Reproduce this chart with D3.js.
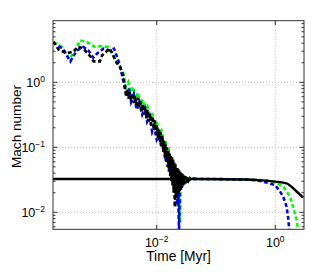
<!DOCTYPE html>
<html>
<head>
<meta charset="utf-8">
<script src="https://cdn.jsdelivr.net/npm/d3@7"></script>
<style>
  body { margin: 0; background: #fff; }
  text { font-family: "Liberation Sans", Arial, sans-serif; fill: #000; }
</style>
</head>
<body>
<svg class="chart" width="336" height="273"></svg>
<script>
// time [Myr] and Mach number
let greenT = [1.81e-4, 2.5e-4, 3.1e-4, 3.25e-4, 3.7e-4, 4.2e-4, 5.1e-4, 6.6e-4, 9.1e-4, 1.18e-3, 1.53e-3, 1.75e-3, 2.0e-3, 2.26e-3, 2.75e-3,
  3.0e-3, 3.3e-3, 3.6e-3, 4.0e-3, 4.4e-3, 4.8e-3, 5.3e-3, 5.8e-3, 6.4e-3, 7.0e-3, 7.7e-3, 8.4e-3, 9.2e-3, 1.0e-2, 1.1e-2, 1.2e-2,
  1.3e-2, 1.4e-2, 1.5e-2, 1.6e-2, 1.7e-2, 1.8e-2, 1.9e-2, 2.0e-2, 2.1e-2, 2.2e-2, 2.3e-2, 2.38e-2, 2.47e-2, 2.55e-2, 2.65e-2,
  2.8e-2, 2.95e-2, 3.15e-2, 3.45e-2, 3.9e-2, 5e-2, 0.1, 0.3, 0.7, 1.0, 1.36, 1.77, 2.0, 2.29, 2.45];
let greenM = [4.2, 3.5, 2.6, 2.3, 2.6, 3.1, 4.4, 4.2, 3.5, 3.6, 3.5, 2.8, 2.2, 1.85, 1.37,
  0.85, 1.0, 0.7, 0.85, 0.55, 0.7, 0.45, 0.55, 0.36, 0.42, 0.28, 0.34, 0.21, 0.25, 0.16, 0.18,
  0.12, 0.13, 0.08, 0.09, 0.055, 0.06, 0.035, 0.04, 0.02, 0.028, 0.012, 0.02, 0.007, 0.03, 0.024,
  0.034, 0.028, 0.034, 0.031, 0.033, 0.0325, 0.0325, 0.0322, 0.031, 0.029, 0.025, 0.0175, 0.012, 0.0076, 0.005];

let blueT = [2.2e-4, 2.6e-4, 3.1e-4, 3.5e-4, 4.0e-4, 4.5e-4, 5.8e-4, 7.0e-4, 8.5e-4, 1.0e-3, 1.26e-3, 1.6e-3, 1.9e-3, 2.1e-3, 2.4e-3, 2.7e-3,
  2.9e-3, 3.1e-3, 3.4e-3, 3.7e-3, 4.1e-3, 4.6e-3, 5.1e-3, 5.7e-3, 6.3e-3, 6.9e-3, 7.6e-3, 8.4e-3, 9.2e-3, 1.0e-2, 1.1e-2, 1.2e-2,
  1.3e-2, 1.4e-2, 1.5e-2, 1.6e-2, 1.7e-2, 1.8e-2, 1.9e-2, 2.0e-2, 2.1e-2, 2.2e-2, 2.3e-2, 2.38e-2, 2.45e-2, 2.55e-2, 2.7e-2,
  2.85e-2, 3.0e-2, 3.3e-2, 3.7e-2, 5e-2, 0.1, 0.3, 0.5, 0.8, 1.0, 1.2, 1.36, 1.55, 1.67, 1.72];
let blueM = [3.6, 3.3, 2.5, 2.1, 2.6, 3.1, 3.5, 3.1, 2.4, 2.8, 3.3, 3.1, 3.3, 2.6, 1.8, 1.1,
  0.9, 0.6, 0.8, 0.5, 0.65, 0.38, 0.5, 0.32, 0.4, 0.25, 0.3, 0.17, 0.2, 0.13, 0.15, 0.1,
  0.11, 0.07, 0.08, 0.05, 0.055, 0.035, 0.04, 0.022, 0.03, 0.013, 0.02, 0.005, 0.03, 0.022, 0.034,
  0.028, 0.034, 0.03, 0.033, 0.0325, 0.0325, 0.032, 0.031, 0.028, 0.026, 0.021, 0.0174, 0.0122, 0.0076, 0.005];

let blackT = [1.81e-4, 2.2e-4, 3.04e-4, 3.9e-4, 4.79e-4, 5.8e-4, 7.6e-4, 8.6e-4, 1.1e-3, 1.2e-3, 1.6e-3, 1.75e-3, 2.1e-3, 2.4e-3, 2.7e-3,
  2.9e-3, 3.05e-3, 3.2e-3, 3.35e-3, 3.5e-3, 3.7e-3, 3.9e-3, 4.1e-3, 4.3e-3, 4.5e-3, 4.75e-3, 5.0e-3, 5.25e-3, 5.5e-3, 5.8e-3,
  6.1e-3, 6.4e-3, 6.7e-3, 7.0e-3, 7.35e-3, 7.7e-3, 8.1e-3, 8.5e-3, 8.9e-3, 9.3e-3, 9.7e-3, 1.01e-2, 1.05e-2, 1.09e-2, 1.13e-2,
  1.17e-2, 1.21e-2, 1.25e-2, 1.29e-2, 1.33e-2, 1.37e-2, 1.41e-2, 1.45e-2, 1.49e-2, 1.53e-2, 1.57e-2, 1.61e-2, 1.65e-2, 1.69e-2,
  1.73e-2, 1.77e-2, 1.81e-2, 1.85e-2, 1.89e-2, 1.93e-2, 1.97e-2, 2.01e-2, 2.04e-2, 2.07e-2, 2.11e-2, 2.15e-2, 2.19e-2, 2.23e-2,
  2.27e-2, 2.31e-2, 2.35e-2, 2.4e-2, 2.45e-2, 2.5e-2, 2.55e-2, 2.6e-2, 2.66e-2, 2.72e-2, 2.78e-2, 2.85e-2, 2.92e-2, 3.0e-2,
  3.08e-2, 3.16e-2, 3.25e-2, 3.35e-2, 3.45e-2, 3.6e-2, 3.8e-2, 4.0e-2, 4.4e-2, 5e-2];
let blackM = [4.22, 3.2, 2.79, 2.96, 3.54, 3.3, 2.5, 2.1, 2.1, 2.6, 3.3, 2.9, 2.0, 1.74, 1.3,
  0.8, 0.62, 0.78, 0.56, 0.72, 0.52, 0.68, 0.48, 0.62, 0.44, 0.58, 0.4, 0.52, 0.36, 0.46,
  0.32, 0.42, 0.28, 0.38, 0.25, 0.33, 0.22, 0.3, 0.19, 0.26, 0.16, 0.22, 0.14, 0.19, 0.12,
  0.17, 0.1, 0.15, 0.085, 0.13, 0.07, 0.11, 0.06, 0.1, 0.05, 0.09, 0.042, 0.08, 0.036,
  0.075, 0.03, 0.07, 0.025, 0.065, 0.02, 0.06, 0.013, 0.012, 0.055, 0.016, 0.05, 0.018, 0.048,
  0.019, 0.046, 0.02, 0.044, 0.021, 0.042, 0.022, 0.04, 0.024, 0.039, 0.026, 0.037, 0.027, 0.036,
  0.028, 0.035, 0.03, 0.034, 0.031, 0.0335, 0.0318, 0.033, 0.0325, 0.0326];

// solid reference line
let solidT = [1.78e-4, 0.05, 0.3, 0.6, 1.0, 1.55, 2.29, 2.96];
let solidM = [0.0326, 0.0326, 0.032, 0.031, 0.0297, 0.0279, 0.0209, 0.0168];

let xTicks = [1e-2, 1];
let yTicks = [1e-2, 1e-1, 1];
let xTickLabels = ["\u22122", "0"];
let yTickLabels = ["\u22122", "\u22121", "0"];

function drawChart(){
    let margin = {top: 20.7, right: 32, bottom: 43.7, left: 53},
        width = 336 - margin.left - margin.right,
        height = 273 - margin.top - margin.bottom;

    let svg = d3.select(".chart");
    let g = svg.append("g").attr("transform", "translate(" + margin.left + "," + margin.top + ")");

    let x = d3.scaleLog().domain([1.78e-4, 3.05]).range([0, width]),
        y = d3.scaleLog().domain([0.00548, 8.87]).range([height, 0]);

    svg.append("clipPath").attr("id", "clip")
        .append("rect").attr("width", width).attr("height", height);

    // grid
    g.selectAll(".xgrid").data(xTicks).join("line")
        .attr("x1", d => x(d)).attr("x2", d => x(d))
        .attr("y1", 0).attr("y2", height)
        .style("stroke", "#bbb").style("stroke-dasharray", "1,2");
    g.selectAll(".ygrid").data(yTicks).join("line")
        .attr("x1", 0).attr("x2", width)
        .attr("y1", d => y(d)).attr("y2", d => y(d))
        .style("stroke", "#bbb").style("stroke-dasharray", "1,2");

    // minor ticks on y
    let minor = [];
    for(let k = -3; k <= 0; k++)
        for(let m = 2; m <= 9; m++){
            let v = m * Math.pow(10, k);
            if(v > y.domain()[0] && v < y.domain()[1]) minor.push(v);
        }

    let ticks = g.append("g").style("stroke", "#333").style("stroke-width", 1);
    minor.forEach(function(v){
        ticks.append("line").attr("x1", 0).attr("x2", 2.5).attr("y1", y(v)).attr("y2", y(v));
        ticks.append("line").attr("x1", width).attr("x2", width - 2.5).attr("y1", y(v)).attr("y2", y(v));
    });
    yTicks.forEach(function(v){
        ticks.append("line").attr("x1", 0).attr("x2", 4.5).attr("y1", y(v)).attr("y2", y(v));
        ticks.append("line").attr("x1", width).attr("x2", width - 4.5).attr("y1", y(v)).attr("y2", y(v));
    });
    xTicks.forEach(function(v){
        ticks.append("line").attr("x1", x(v)).attr("x2", x(v)).attr("y1", height).attr("y2", height - 4.5);
        ticks.append("line").attr("x1", x(v)).attr("x2", x(v)).attr("y1", 0).attr("y2", 4.5);
    });

    // series
    let line = d3.line().x(d => x(d[0])).y(d => y(d[1]));
    let plot = g.append("g").attr("clip-path", "url(#clip)");

    let series = [
        {t: greenT, m: greenM, color: "#00ff00"},
        {t: blueT, m: blueM, color: "#0000ff"},
        {t: blackT, m: blackM, color: "#000000"}
    ];
    series.forEach(function(s){
        plot.append("path")
            .datum(s.t.map((t, i) => [t, s.m[i]]))
            .attr("d", line)
            .style("fill", "none")
            .style("stroke", s.color)
            .style("stroke-width", 2.6)
            .style("stroke-dasharray", "4,2.5");
    });
    plot.append("path")
        .datum(solidT.map((t, i) => [t, solidM[i]]))
        .attr("d", line.curve(d3.curveMonotoneX))
        .style("fill", "none")
        .style("stroke", "#000")
        .style("stroke-width", 2.4);

    // box
    g.append("rect").attr("width", width).attr("height", height)
        .style("fill", "none").style("stroke", "#333").style("stroke-width", 1);

    // tick labels
    g.selectAll(".xlab").data(xTicks).join("text")
        .attr("x", d => x(d)).attr("y", height + 17.6)
        .attr("text-anchor", "middle")
        .attr("font-size", 12.5)
        .each(function(d, i){
            let t = d3.select(this);
            t.append("tspan").text("10");
            t.append("tspan").attr("dy", -5).attr("font-size", 8.5).text(xTickLabels[i]);
        });
    g.selectAll(".ylab").data(yTicks).join("text")
        .attr("x", -8).attr("y", d => y(d) + 4.4)
        .attr("text-anchor", "end")
        .attr("font-size", 12.5)
        .each(function(d, i){
            let t = d3.select(this);
            t.append("tspan").text("10");
            t.append("tspan").attr("dy", -5).attr("font-size", 8.5).text(yTickLabels[i]);
        });

    // axis titles
    svg.append("text")
        .attr("x", margin.left + width / 2).attr("y", 261)
        .attr("text-anchor", "middle")
        .attr("font-size", 13.8)
        .text("Time [Myr]");
    svg.append("text")
        .attr("transform", "translate(20.5,126.5)rotate(-90)")
        .attr("text-anchor", "middle")
        .attr("font-size", 13.6)
        .text("Mach number");
}

drawChart();
</script>
</body>
</html>
